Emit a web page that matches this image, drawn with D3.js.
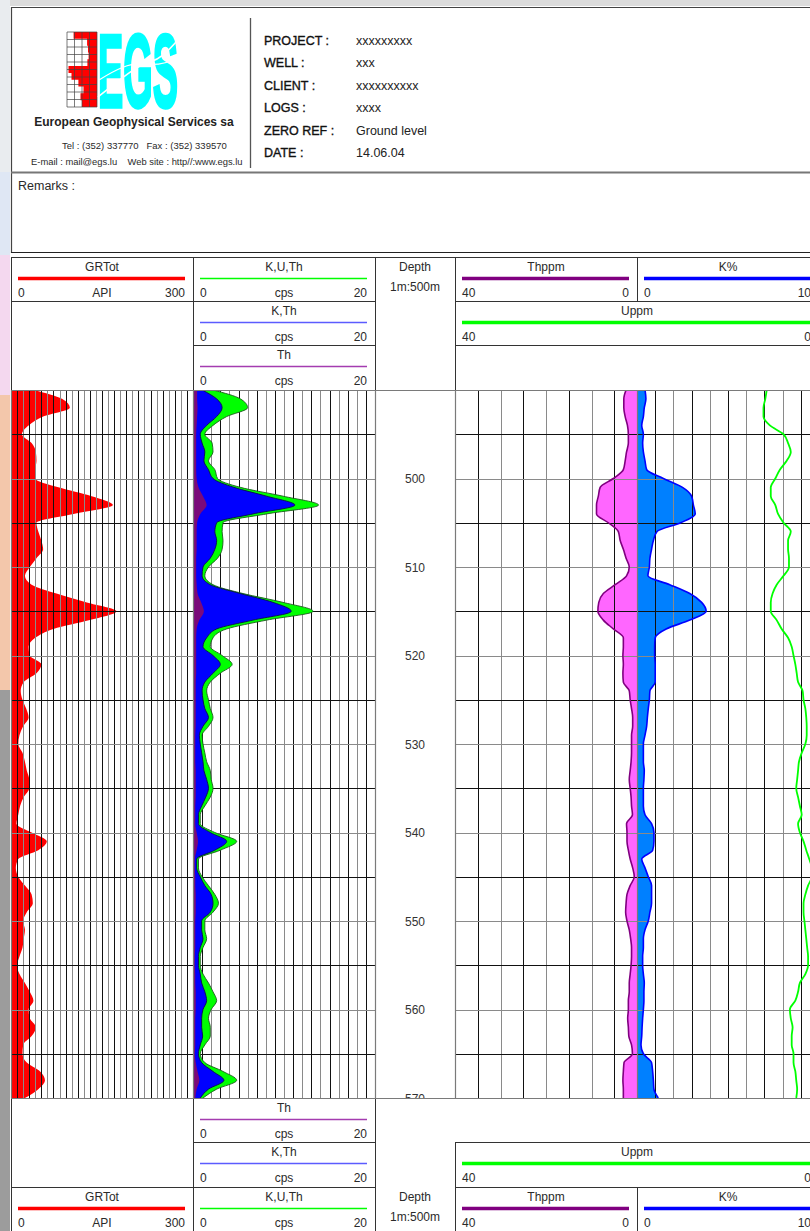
<!DOCTYPE html>
<html>
<head>
<meta charset="utf-8">
<script src="https://cdn.jsdelivr.net/npm/d3@7"></script>
<style>
  html, body { margin: 0; padding: 0; background: #fff; }
  svg { display: block; }
  text { font-family: "Liberation Sans", Arial, sans-serif; fill: #2a2a2a; }
</style>
</head>
<body>
<svg id="log" width="810" height="1231"></svg>
<script>
// ---------------- header data ----------------
const infoLabels = ["PROJECT :", "WELL :", "CLIENT :", "LOGS :", "ZERO REF :", "DATE :"];
const infoValues = ["xxxxxxxxx", "xxx", "xxxxxxxxxx", "xxxx", "Ground level", "14.06.04"];
const companyName = "European Geophysical Services sa";
const companyPhone = "Tel : (352) 337770   Fax : (352) 339570";
const companyWeb = "E-mail : mail@egs.lu    Web site : http//:www.egs.lu";
// logo log profile (fraction of the small grid filled, top to bottom)
const logoLog = [0.8, 0.78, 0.33, 0.3, 0.28, 0.32, 0.95, 0.85, 0.62, 0.45, 0.55, 0.5];

// ---------------- log data (1 m sampling) ----------------
const depth = [490,491,492,493,494,495,496,497,498,499,500,501,502,503,504,505,506,507,508,509,
  510,511,512,513,514,515,516,517,518,519,520,521,522,523,524,525,526,527,528,529,
  530,531,532,533,534,535,536,537,538,539,540,541,542,543,544,545,546,547,548,549,
  550,551,552,553,554,555,556,557,558,559,560,561,562,563,564,565,566,567,568,569,570];

// GRTot, API
const grTot = [37,84,97,53,29,18,34,41,42,40, 40,78,133,168,103,42,45,50,53,42,
  31,23,34,75,125,174,130,70,40,29, 31,50,42,21,16,19,25,29,20,14,
  12,19,23,26,30,30,21,15,12,9, 34,59,45,12,8,12,23,34,36,26,
  20,23,21,19,14,10,14,23,31,37, 29,31,41,34,20,19,26,48,56,45, 23];

// K,U,Th window, cps
const kuth = [2.2,5.2,6.0,3.7,2.2,1.3,2.1,2.2,1.7,2.4, 2.7,5.2,9.9,13.8,8.1,3.3,3.2,3.3,3.2,2.7,
  1.7,1.3,2.2,5.5,9.9,13.2,8.1,3.7,2.2,1.9, 3.2,4.3,3.0,1.9,1.5,1.7,1.9,2.2,1.7,1.0,
  1.1,1.3,1.5,1.9,2.0,2.2,1.9,1.3,0.8,0.8, 2.4,4.8,3.0,0.6,0.6,1.0,1.7,2.4,2.8,2.2,
  1.3,1.3,1.5,1.1,0.8,0.8,1.1,1.7,2.2,2.6, 2.0,1.7,1.9,1.9,1.3,0.8,1.3,3.3,4.8,2.6, 1.1];

// K,Th window, cps
const kth = [1.0,2.6,3.2,2.6,1.5,0.8,1.0,1.3,1.2,1.7, 2.2,4.5,8.1,11.2,6.6,2.6,2.4,2.6,2.4,1.9,
  1.1,1.0,1.9,5.2,8.8,10.8,6.6,2.6,1.5,1.1, 2.2,3.0,2.2,1.3,1.0,1.1,1.3,1.7,1.1,0.7,
  0.8,0.95,1.1,1.2,1.5,1.7,1.4,0.95,0.6,0.6, 1.9,3.7,2.4,0.4,0.4,0.8,1.3,2.0,2.2,1.9,
  0.95,0.95,1.1,0.8,0.6,0.6,0.8,0.95,1.3,1.5, 1.1,0.95,0.95,1.06,0.8,0.6,0.95,2.2,3.4,1.7, 0.8];

// Th window, cps
const thCps = [0.45,0.45,0.5,0.45,0.4,0.35,0.35,0.35,0.35,0.35, 0.4,0.6,1.1,1.5,0.8,0.45,0.4,0.4,0.4,0.35,
  0.35,0.35,0.4,0.5,0.9,1.2,0.7,0.4,0.35,0.35, 0.35,0.35,0.35,0.3,0.3,0.3,0.3,0.3,0.3,0.25,
  0.25,0.25,0.25,0.3,0.3,0.3,0.3,0.25,0.25,0.25, 0.4,0.55,0.4,0.2,0.2,0.25,0.25,0.3,0.3,0.3,
  0.25,0.25,0.25,0.25,0.2,0.2,0.25,0.25,0.3,0.3, 0.3,0.25,0.25,0.25,0.25,0.2,0.3,0.5,0.7,0.4, 0.25];

// Thorium, ppm
const thPpm = [2.4,2.9,2.9,2.6,2.1,1.9,1.9,2.3,2.6,3.0, 5.2,8.1,8.5,8.9,8.9,6.3,4.1,3.7,3.0,2.4,
  1.7,2.3,4.8,7.4,8.4,8.6,7.4,5.2,3.0,3.0, 3.1,3.0,3.1,3.0,1.7,1.5,1.2,0.95,0.95,1.2,
  1.2,1.2,1.3,1.5,1.7,1.5,1.3,1.2,1.0,2.3, 2.2,2.2,1.9,1.5,0.95,0.6,1.5,2.2,2.4,2.5,
  2.2,1.7,1.4,1.2,1.2,1.3,1.5,1.7,1.7,1.9, 1.9,2.05,1.9,1.8,1.2,1.0,2.85,3.0,3.1,3.0, 3.0];

// Potassium, %
const kPct = [0.44,0.49,0.4,0.35,0.26,0.35,0.31,0.35,0.44,0.53, 1.45,2.5,3.0,3.1,3.2,2.4,1.1,0.9,0.8,0.71,
  0.68,0.6,1.8,2.9,3.55,3.8,2.9,1.6,1.0,0.97, 0.97,1.0,1.0,1.0,0.71,0.68,0.62,0.57,0.53,0.44,
  0.35,0.35,0.35,0.4,0.38,0.35,0.35,0.35,0.44,0.8, 0.93,0.93,0.86,0.26,0.44,0.62,0.8,0.8,0.8,0.71,
  0.62,0.44,0.35,0.35,0.31,0.31,0.35,0.4,0.38,0.38, 0.35,0.31,0.28,0.26,0.22,0.35,0.8,0.86,0.9,0.93, 1.17];

// Uranium, ppm
const uPpm = [5.75,5.9,6.1,6.1,5.4,3.9,3.4,3.1,3.55,4.3, 4.8,5.3,5.3,4.8,4.5,3.9,3.1,3.4,3.4,3.3,
  3.3,3.9,4.65,5.1,5.3,5.3,4.65,4.1,3.4,3.0, 2.8,2.6,2.45,2.3,1.8,1.7,1.5,1.4,1.35,1.35,
  1.5,1.9,2.2,2.3,2.4,2.5,2.3,2.1,1.9,2.3, 2.1,1.7,1.4,1.07,0.8,0.8,1.2,1.5,1.7,1.7,
  1.6,1.5,1.4,1.3,1.2,1.2,1.5,2.1,2.3,2.6, 3.2,3.1,2.9,3.0,3.0,2.8,2.8,2.6,2.5,2.4, 2.5];

const depthLabels = [500, 510, 520, 530, 540, 550, 560, 570];

// ---------------- layout ----------------
const svg = d3.select("#log");
const T = { gr: [11, 193], kuth: [193, 375], dep: [375, 455], th: [455, 637], k: [637, 819] };
const plotTop = 390, plotBot = 1098;
const LINE = "#333";

const y = d3.scaleLinear().domain([490, 570]).range([plotTop, plotBot]);
const xGR = d3.scaleLinear().domain([0, 300]).range(T.gr);
const xC = d3.scaleLinear().domain([0, 20]).range(T.kuth);
const xTh = d3.scaleLinear().domain([40, 0]).range(T.th);
const xK = d3.scaleLinear().domain([0, 10]).range(T.k);
const xU = d3.scaleLinear().domain([40, 0]).range([T.th[0], T.k[1]]);

const rows = arr => depth.map((d, i) => ({ d, v: arr[i] }));

// page margin background
const margin = svg.append("g");
margin.append("rect").attr("x", 0).attr("y", 0).attr("width", 810).attr("height", 6).attr("fill", "#dcdcdc");
[[0, 172, "#e9ecef"], [172, 255, "#dfe7f4"], [255, 395, "#f4d8ef"], [395, 690, "#f3c7ab"], [690, 1231, "#9c9c9c"]]
  .forEach(([a, b, c]) => margin.append("rect").attr("x", 0).attr("y", a).attr("width", 10).attr("height", b - a).attr("fill", c));

function hline(g, x1, x2, yy, stroke = LINE, w = 1) {
  g.append("line").attr("x1", x1).attr("x2", x2).attr("y1", yy).attr("y2", yy)
    .attr("stroke", stroke).attr("stroke-width", w);
}
function vline(g, xx, y1, y2, stroke = LINE, w = 1) {
  g.append("line").attr("x1", xx).attr("x2", xx).attr("y1", y1).attr("y2", y2)
    .attr("stroke", stroke).attr("stroke-width", w);
}

// ---------------- title block ----------------
const head = svg.append("g");
head.append("rect").attr("x", 10).attr("y", 6).attr("width", 820).attr("height", 247).attr("fill", "#fff");
hline(head, 11, 830, 7.5, "#444", 1.2);
vline(head, 11.5, 7, 253, "#444", 1.2);
vline(head, 250.5, 18, 168, "#555", 1.3);
hline(head, 11, 830, 172.5, "#777", 2);
hline(head, 11, 830, 252.5, "#222", 1);

// logo: small log grid with a red curve
const logo = head.append("g");
const lgX = d3.scaleLinear().domain([0, 1]).range([97, 67]);
const lgY = d3.scaleLinear().domain([0, logoLog.length - 1]).range([32, 107]);
logo.append("path")
  .datum(logoLog)
  .attr("d", d3.area().curve(d3.curveStepAfter).y((d, i) => lgY(i)).x0(97).x1(d => lgX(d)))
  .attr("fill", "#ff0000");
d3.range(0, 5).forEach(i => vline(logo, 67 + i * 7.5, 32, 107, "#444", 0.7));
d3.range(0, 11).forEach(i => hline(logo, 67, 97, 32 + i * 7.5, "#444", 0.7));
logo.append("text").text("EGS")
  .attr("x", 98).attr("y", 107)
  .attr("textLength", 80).attr("lengthAdjust", "spacingAndGlyphs")
  .style("font-size", "104px").style("font-weight", "bold")
  .style("fill", "#00ffff").attr("stroke", "#00ffff").attr("stroke-width", 3.5);
logo.append("path").attr("d", "M98,97 C120,80 135,66 150,62 C163,58 170,48 178,40")
  .attr("fill", "none").attr("stroke", "#fff").attr("stroke-width", 1.6);
logo.append("path").attr("d", "M99,80 C115,70 130,62 145,64 C160,66 170,62 178,58")
  .attr("fill", "none").attr("stroke", "#fff").attr("stroke-width", 1.3);

head.append("text").text(companyName).attr("x", 134).attr("y", 126)
  .attr("text-anchor", "middle").style("font-size", "12px").style("font-weight", "bold").style("fill", "#222");
head.append("text").text(companyPhone).attr("x", 62).attr("y", 149)
  .style("font-size", "9.5px").attr("xml:space", "preserve");
head.append("text").text(companyWeb).attr("x", 31).attr("y", 164.5)
  .style("font-size", "9.4px").attr("xml:space", "preserve");

infoLabels.forEach((t, i) => {
  head.append("text").text(t).attr("x", 264).attr("y", 45 + i * 22.4)
    .style("font-size", "12.5px").style("fill", "#111")
    .attr("stroke", "#111").attr("stroke-width", 0.35);
  head.append("text").text(infoValues[i]).attr("x", 356).attr("y", 45 + i * 22.4)
    .style("font-size", "12.5px").style("fill", "#222");
});
head.append("text").text("Remarks :").attr("x", 18).attr("y", 190).style("font-size", "12.5px");

// ---------------- scale header cells ----------------
const hdr = svg.append("g");
function scaleCell(x0, x1, top, title, color, w, left, unit, right) {
  const g = hdr.append("g");
  g.append("text").text(title).attr("x", (x0 + x1) / 2).attr("y", top + 13.5)
    .attr("text-anchor", "middle").style("font-size", "12px");
  hline(g, x0 + 7, x1 - 8, top + 21.5, color, w);
  g.append("text").text(left).attr("x", x0 + 7).attr("y", top + 39.5).style("font-size", "12px");
  if (unit) g.append("text").text(unit).attr("x", (x0 + x1) / 2).attr("y", top + 39.5)
    .attr("text-anchor", "middle").style("font-size", "12px");
  g.append("text").text(right).attr("x", x1 - 8).attr("y", top + 39.5)
    .attr("text-anchor", "end").style("font-size", "12px");
}
function depthCell(top) {
  hdr.append("text").text("Depth").attr("x", 415).attr("y", top + 13.5)
    .attr("text-anchor", "middle").style("font-size", "12px");
  hdr.append("text").text("1m:500m").attr("x", 415).attr("y", top + 34)
    .attr("text-anchor", "middle").style("font-size", "12px");
}

const GREEN = "#00ff00", KTH = "#5c5cff", THC = "#a43cb0", PURPLE = "#800080", BLUE = "#0000ff", RED = "#ff0000";

// top header
scaleCell(T.gr[0], T.gr[1], 257, "GRTot", RED, 3.5, "0", "API", "300");
scaleCell(T.kuth[0], T.kuth[1], 257, "K,U,Th", GREEN, 1.3, "0", "cps", "20");
scaleCell(T.kuth[0], T.kuth[1], 301, "K,Th", KTH, 1.6, "0", "cps", "20");
scaleCell(T.kuth[0], T.kuth[1], 345, "Th", THC, 1.6, "0", "cps", "20");
depthCell(257);
scaleCell(T.th[0], T.th[1], 257, "Thppm", PURPLE, 3.5, "40", "", "0");
scaleCell(T.k[0], T.k[1], 257, "K%", BLUE, 3.5, "0", "", "10");
scaleCell(T.th[0], T.k[1], 301, "Uppm", GREEN, 3.5, "40", "", "0");

// bottom header
scaleCell(T.kuth[0], T.kuth[1], 1098, "Th", THC, 1.6, "0", "cps", "20");
scaleCell(T.kuth[0], T.kuth[1], 1142, "K,Th", KTH, 1.6, "0", "cps", "20");
scaleCell(T.kuth[0], T.kuth[1], 1187, "K,U,Th", GREEN, 1.3, "0", "cps", "20");
scaleCell(T.gr[0], T.gr[1], 1187, "GRTot", RED, 3.5, "0", "API", "300");
depthCell(1187);
scaleCell(T.th[0], T.k[1], 1142, "Uppm", GREEN, 3.5, "40", "", "0");
scaleCell(T.th[0], T.th[1], 1187, "Thppm", PURPLE, 3.5, "40", "", "0");
scaleCell(T.k[0], T.k[1], 1187, "K%", BLUE, 3.5, "0", "", "10");

// header cell borders
hline(hdr, 11, 830, 257.5);
hline(hdr, 11, 375, 301.5); hline(hdr, 455, 830, 301.5);
hline(hdr, 193, 375, 345.5); hline(hdr, 455, 830, 345.5);
hline(hdr, 193, 375, 1142.5); hline(hdr, 455, 830, 1142.5);
hline(hdr, 11, 375, 1187.5); hline(hdr, 455, 830, 1187.5);
[11.5, 193.5, 375.5].forEach(xx => { vline(hdr, xx, 257, plotTop); vline(hdr, xx, plotBot, 1231); });
vline(hdr, 455.5, 257, plotTop); vline(hdr, 455.5, 1142, 1231);
vline(hdr, 637.5, 257, 301); vline(hdr, 637.5, 1187, 1231);

// ---------------- plot tracks ----------------
const plot = svg.append("g");
svg.append("defs").append("clipPath").attr("id", "plotClip")
  .append("rect").attr("x", 11).attr("y", plotTop).attr("width", 808).attr("height", plotBot - plotTop);
plot.attr("clip-path", "url(#plotClip)");

const gridStroke = i => (i % 2 ? "#111" : "#8a8a8a");
const px = v => Math.round(v) + 0.5;
function grid(g, scale, n, yTicks) {
  g.append("g").selectAll("line").data(scale.ticks(n)).join("line")
    .attr("x1", d => px(scale(d))).attr("x2", d => px(scale(d)))
    .attr("y1", plotTop).attr("y2", plotBot)
    .attr("stroke", (d, i) => gridStroke(i)).attr("stroke-width", 1);
  g.append("g").selectAll("line").data(y.ticks(yTicks)).join("line")
    .attr("x1", scale.range()[0]).attr("x2", scale.range()[1])
    .attr("y1", d => px(y(d))).attr("y2", d => px(y(d)))
    .attr("stroke", (d, i) => gridStroke(i)).attr("stroke-width", 1);
}

const curve = d3.curveMonotoneY;

// GR track: red fill with grid on top
const gGR = plot.append("g");
gGR.append("path").datum(rows(grTot))
  .attr("d", d3.area().curve(curve).y(d => y(d.d)).x0(xGR(0)).x1(d => xGR(d.v)))
  .attr("fill", RED);
grid(gGR, xGR, 30, 16);

// K,U,Th track: grid below stacked window fills
const gC = plot.append("g");
grid(gC, xC, 20, 16);
const cArea = d3.area().curve(curve).y(d => y(d.d)).x0(xC(0)).x1(d => xC(d.v));
const cLine = d3.line().curve(curve).y(d => y(d.d)).x(d => xC(d.v));
gC.append("path").datum(rows(kuth)).attr("d", cArea).attr("fill", GREEN);
gC.append("path").datum(rows(kuth)).attr("d", cLine).attr("fill", "none").attr("stroke", "#1d5a1d").attr("stroke-width", 0.9);
gC.append("path").datum(rows(kth)).attr("d", cArea).attr("fill", "#0000ff");
gC.append("path").datum(rows(kth)).attr("d", cLine).attr("fill", "none").attr("stroke", "#0a0a50").attr("stroke-width", 0.9);
gC.append("path").datum(rows(thCps)).attr("d", cArea).attr("fill", "#7a0a7a");

// Thppm / K% / Uppm tracks
const gS = plot.append("g");
gS.append("path").datum(rows(thPpm))
  .attr("d", d3.area().curve(curve).y(d => y(d.d)).x0(xTh(0)).x1(d => xTh(d.v)))
  .attr("fill", "#ff66ff");
gS.append("path").datum(rows(kPct))
  .attr("d", d3.area().curve(curve).y(d => y(d.d)).x0(xK(0)).x1(d => xK(d.v)))
  .attr("fill", "#0080ff");
grid(gS, xTh, 10, 16);
grid(gS, xK, 10, 16);
gS.append("path").datum(rows(thPpm))
  .attr("d", d3.line().curve(curve).y(d => y(d.d)).x(d => xTh(d.v)))
  .attr("fill", "none").attr("stroke", PURPLE).attr("stroke-width", 1.6);
gS.append("path").datum(rows(kPct))
  .attr("d", d3.line().curve(curve).y(d => y(d.d)).x(d => xK(d.v)))
  .attr("fill", "none").attr("stroke", BLUE).attr("stroke-width", 1.6);
gS.append("path").datum(rows(uPpm))
  .attr("d", d3.line().curve(curve).y(d => y(d.d)).x(d => xU(d.v)))
  .attr("fill", "none").attr("stroke", GREEN).attr("stroke-width", 1.8);

// depth track labels
plot.append("g").selectAll("text").data(depthLabels).join("text")
  .text(d => d).attr("x", 415).attr("y", d => y(d) + 4.5)
  .attr("text-anchor", "middle").style("font-size", "12px").style("fill", "#333");

// track borders inside the plot
const borders = svg.append("g");
hline(borders, 11, 830, plotTop + 0.5, "#7a7a7a", 1.2);
hline(borders, 11, 830, plotBot + 0.5, "#7a7a7a", 1.2);
[11.5, 193.5, 375.5, 455.5, 637.5, 819.5].forEach(xx => vline(borders, xx, plotTop, plotBot, "#7a7a7a", 1.2));
</script>
</body>
</html>
